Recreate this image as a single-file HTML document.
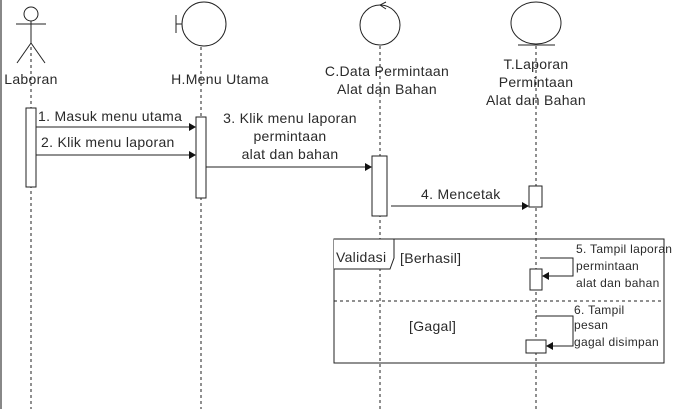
<!DOCTYPE html>
<html><head><style>body{margin:0;background:#fff}svg{display:block}text{font-family:"Liberation Sans",sans-serif;fill:#2a2a2a}</style></head><body>
<svg width="676" height="409" viewBox="0 0 676 409">
<rect x="0" y="0" width="2" height="409" fill="#888"/>
<g stroke="#222" fill="none" stroke-width="1">
<g stroke-dasharray="3,3"><line x1="31" y1="35" x2="31" y2="409"/><line x1="201" y1="47" x2="201" y2="409"/><line x1="380" y1="46" x2="380" y2="409"/><line x1="536" y1="46" x2="536" y2="409"/></g>
<circle cx="31" cy="14" r="7" fill="#fff"/><line x1="31" y1="21" x2="31" y2="43"/><line x1="16" y1="24" x2="46" y2="24"/><line x1="31" y1="43" x2="17" y2="63"/><line x1="31" y1="43" x2="45" y2="63"/>
<circle cx="204" cy="24" r="22" fill="#fff"/><line x1="176" y1="15" x2="176" y2="33"/><line x1="176" y1="24" x2="182" y2="24"/>
<circle cx="380" cy="25" r="20" fill="#fff"/><path d="M386 2 L380 5 L386 9"/>
<ellipse cx="536" cy="23" rx="25" ry="21" fill="#fff"/><line x1="518" y1="45" x2="555" y2="45"/>
<rect x="26" y="108" width="10" height="79" fill="#fff"/>
<rect x="196" y="117" width="10" height="81" fill="#fff"/>
<rect x="372" y="156" width="15" height="60" fill="#fff"/>
<rect x="529" y="186" width="13" height="21" fill="#fff"/>
<line x1="36" y1="127" x2="190" y2="127"/><line x1="36" y1="155" x2="190" y2="155"/><line x1="206" y1="167" x2="366" y2="167"/><line x1="391" y1="206" x2="523" y2="206"/>
<rect x="334" y="239" width="330" height="124"/>
<path d="M334 239 H394 V258 L390 269 H334" fill="#fff"/>
<line x1="334" y1="301" x2="664" y2="301" stroke-dasharray="3,3"/>
<rect x="530" y="269" width="12" height="21" fill="#fff"/>
<rect x="526" y="340" width="20" height="13" fill="#fff"/>
<path d="M540 258 H573 V276 H548"/><path d="M536 316 H573 V346 H552"/>
</g>
<g fill="#111"><path d="M196 127 l-7 -4 v8z"/><path d="M196 155 l-7 -4 v8z"/><path d="M372 167 l-7 -4 v8z"/><path d="M529 206 l-7 -4 v8z"/><path d="M542 276 l7 -4 v8z"/><path d="M546 346 l7 -4 v8z"/></g>
<g font-size="14" letter-spacing="0.3">
<text x="31" y="84" text-anchor="middle">Laboran</text>
<text x="220" y="84" text-anchor="middle">H.Menu Utama</text>
<text x="387" y="76" text-anchor="middle">C.Data Permintaan</text><text x="387" y="94" text-anchor="middle">Alat dan Bahan</text>
<text x="536" y="69" text-anchor="middle">T.Laporan</text><text x="536" y="87" text-anchor="middle">Permintaan</text><text x="536" y="105" text-anchor="middle">Alat dan Bahan</text>
<text x="38" y="121">1. Masuk menu utama</text><text x="41" y="147">2. Klik menu laporan</text>
<text x="290" y="123" text-anchor="middle">3. Klik menu laporan</text><text x="290" y="141" text-anchor="middle">permintaan</text><text x="290" y="159" text-anchor="middle">alat dan bahan</text>
<text x="421" y="199">4. Mencetak</text>
<text x="336" y="262">Validasi</text><text x="400" y="263">[Berhasil]</text><text x="409" y="331">[Gagal]</text>
</g>
<g font-size="12" letter-spacing="0.3">
<text x="576" y="253">5. Tampil laporan</text><text x="576" y="270">permintaan</text><text x="576" y="287">alat dan bahan</text>
<text x="574" y="314">6. Tampil</text><text x="574" y="329">pesan</text><text x="574" y="346">gagal disimpan</text>
</g>
</svg></body></html>
